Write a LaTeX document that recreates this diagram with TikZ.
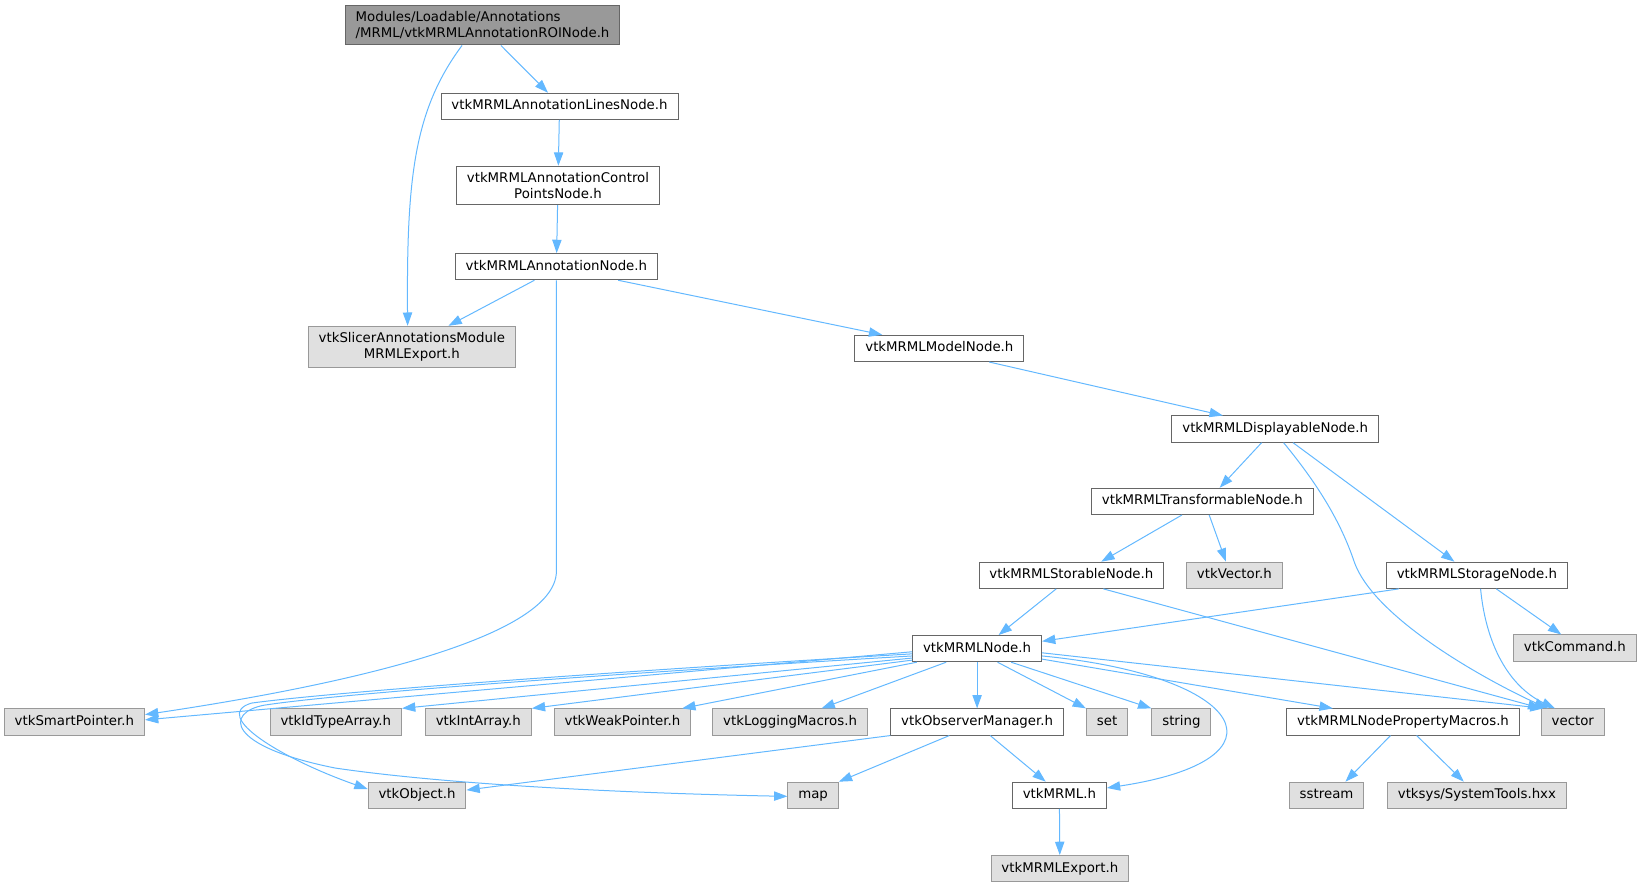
\documentclass[tikz,border=0pt]{standalone}
\usepackage{fontspec}
\setmainfont{DejaVu Sans}
\usetikzlibrary{arrows.meta}
\definecolor{edgeblue}{HTML}{63B8FF}
\definecolor{boxline}{HTML}{666666}
\definecolor{extline}{HTML}{999999}
\definecolor{extfill}{HTML}{E0E0E0}
\definecolor{rootfill}{HTML}{999999}

\tikzset{
  nbox/.style={line width=0.75pt, inner xsep=7.8pt, inner ysep=0pt, minimum height=19.65pt,
    text height=7.6pt, text depth=2.4pt, font=\fontsize{10}{11.5}\selectfont},
  hdr/.style={nbox, draw=boxline, fill=white},
  ext/.style={nbox, draw=extline, fill=extfill},
  root/.style={nbox, draw=boxline, fill=rootfill},
  two/.style={align=center, text height=, text depth=, inner ysep=4.8pt},
  inc/.style={draw=edgeblue, line width=0.75pt, -{Triangle[length=10pt,width=7pt]}},
}

\begin{document}
\begin{tikzpicture}[x=0.786pt, y=-0.786pt]
  \useasboundingbox (0,0) rectangle (1568,846.5);

  \node[root, two, align=left] (roi) at (460.5,24) {Modules/Loadable/Annotations\\/MRML/vtkMRMLAnnotationROINode.h}; %
  \node[hdr] (lines) at (534,101.5) {vtkMRMLAnnotationLinesNode.h}; %
  \node[hdr, two] (ctrlpts) at (532.5,177) {vtkMRMLAnnotationControl\\PointsNode.h}; %
  \node[hdr] (annot) at (531,254.5) {vtkMRMLAnnotationNode.h}; %
  \node[ext, two] (slexp) at (393,331) {vtkSlicerAnnotationsModule\\MRMLExport.h}; %
  \node[hdr] (model) at (896.5,332.5) {vtkMRMLModelNode.h}; %
  \node[hdr] (disp) at (1217,409.5) {vtkMRMLDisplayableNode.h}; %
  \node[hdr] (transf) at (1147.5,478.5) {vtkMRMLTransformableNode.h}; %
  \node[hdr] (storable) at (1022.5,549) {vtkMRMLStorableNode.h}; %
  \node[ext] (vec) at (1178,549) {vtkVector.h}; %
  \node[hdr] (storage) at (1409.5,549) {vtkMRMLStorageNode.h}; %
  \node[hdr] (mnode) at (932.5,619) {vtkMRMLNode.h}; %
  \node[ext] (cmd) at (1503,618.5) {vtkCommand.h}; %

  \node[ext] (smartp) at (71,689) {vtkSmartPointer.h}; %
  \node[ext] (idtype) at (320.5,689) {vtkIdTypeArray.h}; %
  \node[ext] (intarr) at (456.5,689) {vtkIntArray.h}; %
  \node[ext] (weakp) at (594,689) {vtkWeakPointer.h}; %
  \node[ext] (logm) at (754,689) {vtkLoggingMacros.h}; %
  \node[hdr] (obsm) at (932.5,689) {vtkObserverManager.h}; %
  \node[ext] (set) at (1056.5,689) {set}; %
  \node[ext] (string) at (1127.5,689) {string}; %
  \node[hdr] (propm) at (1339,689) {vtkMRMLNodePropertyMacros.h}; %
  \node[ext] (vector) at (1501,689) {vector}; %

  \node[ext] (object) at (398,759) {vtkObject.h}; %
  \node[ext] (map) at (776,759) {map}; %
  \node[hdr] (mrml) at (1011,759) {vtkMRML.h}; %
  \node[ext] (sstr) at (1266,759) {sstream}; %
  \node[ext] (systools) at (1409.5,759) {vtksys/SystemTools.hxx}; %
  \node[ext] (mexp) at (1011.5,829) {vtkMRMLExport.h}; %

  \draw[inc] (roi.south -| 441,0) .. controls (395,105) and (388,170) .. (slexp.north -| 389,0); %
  \draw[inc] (roi.south -| 478,0) -- (lines.north -| 523,0); %
  \draw[inc] (lines) -- (ctrlpts); %
  \draw[inc] (ctrlpts) -- (annot); %
  \draw[inc] (annot.south -| 510,0) -- (slexp.north -| 428,0); %
  \draw[inc] (annot.south -| 590,0) -- (model.north -| 842,0); %
  \draw[inc] (annot.south) -- (531,545) .. controls (531,610) and (320,655) .. (smartp.east |- 0,682); %

  \draw[inc] (model.south -| 944,0) -- (disp.north -| 1167,0); %
  \draw[inc] (disp.south -| 1204,0) -- (transf.north -| 1164,0); %
  \draw[inc] (disp.south -| 1225,0) .. controls (1260,465) and (1280,500) .. (1292,535)
    .. controls (1310,590) and (1420,650) .. (vector.north -| 1477,0); %
  \draw[inc] (disp.south -| 1234,0) -- (storage.north -| 1388,0); %
  \draw[inc] (transf.south -| 1128,0) -- (storable.north -| 1051,0); %
  \draw[inc] (transf.south -| 1154,0) -- (vec.north -| 1170,0); %
  \draw[inc] (storable.south -| 1008,0) -- (mnode.north -| 953,0); %
  \draw[inc] (storable.south -| 1053,0) -- (vector.north -| 1471,0); %
  \draw[inc] (storage.south -| 1335,0) -- (mnode.east |- 0,612); %
  \draw[inc] (storage.south -| 1428,0) -- (cmd.north -| 1490,0); %
  \draw[inc] (storage.south -| 1413,0) .. controls (1418,615) and (1440,655) .. (vector.north -| 1484,0); %

  \draw[inc] (mnode.west |- 0,622) -- (smartp.east |- 0,687); %
  \draw[inc] (mnode.west |- 0,624) .. controls (600,640) and (320,660) .. (240,671)
    .. controls (200,683) and (271,725) .. (object.west |- 0,753); %
  \draw[inc] (mnode.west |- 0,626) .. controls (600,642) and (330,661) .. (252,673)
    .. controls (215,680) and (215,712) .. (320,733) .. controls (450,752) and (650,758) .. (map.west |- 0,760); %
  \draw[inc] (mnode.west |- 0,628) -- (idtype.north east); %
  \draw[inc] (mnode.west |- 0,630) -- (intarr.north east); %
  \draw[inc] (mnode.south -| 875,0) -- (weakp.north -| 651,0); %
  \draw[inc] (mnode.south -| 903,0) -- (logm.north -| 784,0); %
  \draw[inc] (mnode) -- (obsm); %
  \draw[inc] (mnode.south -| 952,0) -- (set.north west); %
  \draw[inc] (mnode.south -| 965,0) -- (string.north west); %
  \draw[inc] (mnode.east |- 0,626) .. controls (1190,645) and (1235,725) .. (mrml.east |- 0,752); %
  \draw[inc] (mnode.east |- 0,629) -- (propm.north -| 1272,0); %
  \draw[inc] (mnode.east |- 0,623) -- (vector.north -| 1473,0); %

  \draw[inc] (obsm.south west) -- (object.east |- 0,754); %
  \draw[inc] (obsm.south -| 906,0) -- (map.north east); %
  \draw[inc] (obsm.south -| 945,0) -- (mrml.north -| 998,0); %
  \draw[inc] (mrml) -- (mexp); %
  \draw[inc] (propm.south -| 1327,0) -- (sstr.north -| 1284,0); %
  \draw[inc] (propm.south -| 1352,0) -- (systools.north -| 1397,0); %
\end{tikzpicture}
\end{document}
